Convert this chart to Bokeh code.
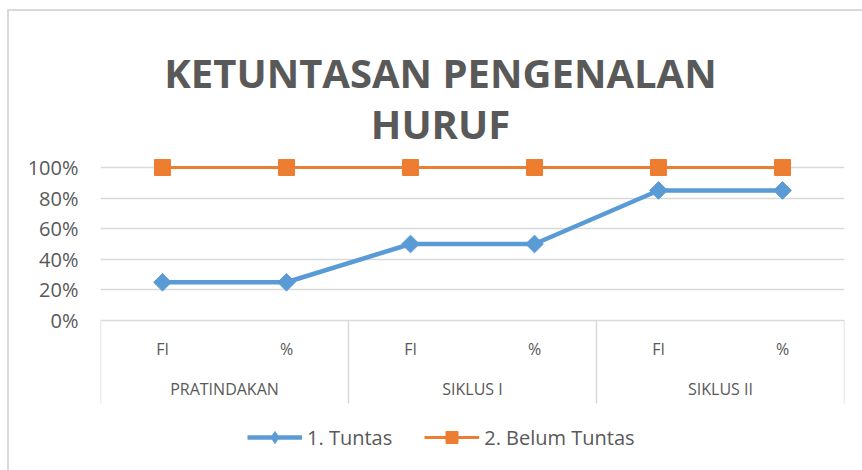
import numpy as np
from bokeh.plotting import figure
from bokeh.models import (FactorRange, Range1d, FixedTicker, NumeralTickFormatter,
                          Legend, LegendItem, Label)
from bokeh.core.properties import value
from bokeh.embed import file_html
from bokeh.resources import INLINE

# ---- data ----
groups = ["PRATINDAKAN", "SIKLUS I", "SIKLUS II"]
sub_labels = ["FI", "%"]
tuntas = [0.25, 0.25, 0.50, 0.50, 0.85, 0.85]
belum_tuntas = [1.00, 1.00, 1.00, 1.00, 1.00, 1.00]
y_ticks = [0.0, 0.2, 0.4, 0.6, 0.8, 1.0]
series_names = ["1. Tuntas", "2. Belum Tuntas"]
title_lines = ["KETUNTASAN PENGENALAN", "HURUF"]

# ---- styling / layout constants ----
TEXT = "#595959"
GRID = "#D9D9D9"
BLUE = "#5B9BD5"
ORANGE = "#ED7D31"
FONT = "Open Sans"
PX_PER_UNIT = 153.0        # pixels per 100 %
ZERO_PX = 320.0            # canvas y of 0 %
H = 470
SUB_Y = -(348 - ZERO_PX) / PX_PER_UNIT
GROUP_Y = -(388 - ZERO_PX) / PX_PER_UNIT
SEP_Y = -(403 - ZERO_PX) / PX_PER_UNIT

factors = [(g, s) for g in groups for s in sub_labels]

p = figure(width=862, height=H, output_backend="svg", toolbar_location=None,
           x_range=FactorRange(*factors, range_padding=0, factor_padding=0,
                               group_padding=0, subgroup_padding=0),
           y_range=Range1d(-(H - ZERO_PX) / PX_PER_UNIT, ZERO_PX / PX_PER_UNIT),
           x_axis_location=None,
           min_border_left=100, min_border_right=18,
           min_border_top=0, min_border_bottom=0)
p.outline_line_color = None
p.background_fill_color = None
p.border_fill_color = None
# chart-area border (left and top edges visible in the picture)
p.styles = {
    "background": (f"linear-gradient({GRID},{GRID}) 7px 9px / 2px 100% no-repeat, "
                   f"linear-gradient({GRID},{GRID}) 7px 9px / 100% 2px no-repeat, #ffffff")
}

# grid and y axis
p.xgrid.visible = False
p.ygrid.ticker = FixedTicker(ticks=y_ticks)
p.ygrid.grid_line_color = GRID
p.ygrid.grid_line_width = 1.3
yax = p.yaxis[0]
yax.ticker = FixedTicker(ticks=y_ticks)
yax.formatter = NumeralTickFormatter(format="0%")
yax.axis_line_color = None
yax.major_tick_line_color = None
yax.minor_tick_line_color = None
yax.major_tick_out = 0
yax.major_label_standoff = 22
yax.major_label_text_font = FONT
yax.major_label_text_font_size = "20px"
yax.major_label_text_color = TEXT

# category separators (group boundaries)
sep_x = [(g, sub_labels[0], -0.5) for g in groups] + [(groups[-1], sub_labels[-1], 0.5)]
p.segment(x0=sep_x, y0=[0] * len(sep_x), x1=sep_x, y1=[SEP_Y] * len(sep_x),
          line_color=GRID, line_width=1.5)

# category labels
p.text(x=factors, y=[SUB_Y] * len(factors), text=[s for _, s in factors],
       text_font=value(FONT), text_font_size="16px", text_color=TEXT,
       text_align="center", text_baseline="middle")
p.text(x=groups, y=[GROUP_Y] * len(groups), text=groups,
       text_font=value(FONT), text_font_size="16px", text_color=TEXT,
       text_align="center", text_baseline="middle")

# series
r1 = p.line(x=factors, y=tuntas, line_color=BLUE, line_width=4.5)
# diamond key used by the legend (legend keys are drawn unrotated); it sits
# underneath the rotated-square markers below
r1key = p.scatter(x=factors, y=tuntas, marker="diamond", size=12,
                  fill_color=BLUE, line_color=BLUE)
r1m = p.scatter(x=factors, y=tuntas, marker="square", angle=np.pi / 4, size=12.5,
                fill_color=BLUE, line_color=BLUE)
r2 = p.line(x=factors, y=belum_tuntas, line_color=ORANGE, line_width=3)
r2m = p.scatter(x=factors, y=belum_tuntas, marker="square", size=16,
                fill_color=ORANGE, line_color=ORANGE)

legend = Legend(items=[LegendItem(label=series_names[0], renderers=[r1, r1key]),
                       LegendItem(label=series_names[1], renderers=[r2, r2m])],
                orientation="horizontal", location=(147, 18),
                glyph_width=55, glyph_height=30, label_standoff=5, spacing=32,
                padding=0, margin=0, border_line_color=None,
                background_fill_alpha=0,
                label_text_font=FONT, label_text_font_size="20px",
                label_text_color=TEXT)
p.add_layout(legend)

# title
p.add_layout(Label(x=440, y=72, x_units="canvas", y_units="canvas",
                   text=title_lines[0], text_align="center", text_baseline="alphabetic",
                   text_font=FONT, text_font_style="bold", text_font_size="40px",
                   text_color=TEXT))
p.add_layout(Label(x=440, y=123, x_units="canvas", y_units="canvas",
                   text=title_lines[1], text_align="center", text_baseline="alphabetic",
                   text_font=FONT, text_font_style="bold", text_font_size="40px",
                   text_color=TEXT))

open("out.html", "w").write(file_html(p, INLINE))
